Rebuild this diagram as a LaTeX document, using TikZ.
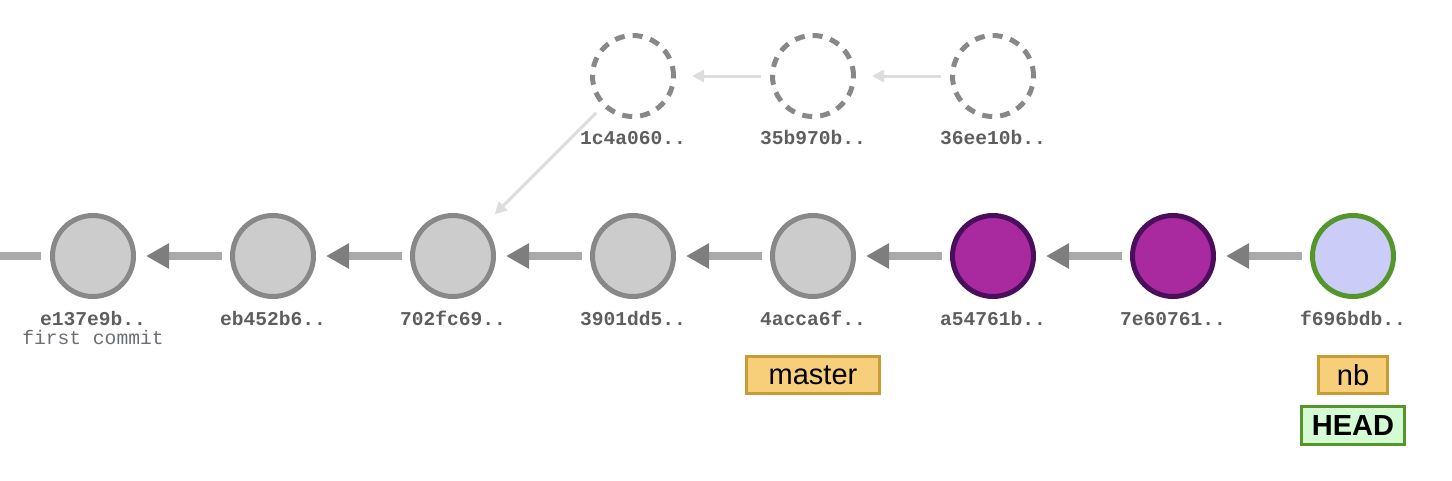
\documentclass[tikz,border=0pt]{standalone}
\usepackage{fontspec}
\setmainfont{Liberation Sans}
\setmonofont{Liberation Mono}
\usetikzlibrary{positioning, arrows.meta}

\definecolor{commitfill}{HTML}{CCCCCC}
\definecolor{commitline}{HTML}{888888}
\definecolor{purplefill}{HTML}{A92A9E}
\definecolor{purpleline}{HTML}{4A0E5C}
\definecolor{headfill}{HTML}{CCCCF8}
\definecolor{headline}{HTML}{55962A}
\definecolor{headtag}{HTML}{D5FBD5}
\definecolor{branchfill}{HTML}{F7CF7B}
\definecolor{branchline}{HTML}{C89B35}
\definecolor{hashgray}{HTML}{5E5E5E}
\definecolor{msggray}{HTML}{6A6E74}
\definecolor{edgegray}{HTML}{AAAAAA}
\definecolor{tipgray}{HTML}{7E7E7E}
\definecolor{lostgray}{HTML}{DDDDDD}

\tikzset{
  commit/.style={circle, draw=commitline, fill=commitfill, line width=3.75pt,
    minimum size=60.75pt, inner sep=0pt},
  branchcommit/.style={commit, draw=purpleline, fill=purplefill},
  headcommit/.style={commit, draw=headline, fill=headfill},
  ghost/.style={commit, fill=white, dash pattern=on 7.5pt off 6pt},
  hash/.style={font=\fontsize{14.7}{17}\selectfont\ttfamily\bfseries,
    text=hashgray, inner sep=0pt, text height=9pt, text depth=0pt},
  msg/.style={font=\fontsize{14.7}{17}\selectfont\ttfamily, text=msggray,
    inner sep=0pt, text height=8.5pt, text depth=0pt},
  branch/.style={draw=branchline, fill=branchfill, line width=2.25pt,
    font=\fontsize{21.75}{24}\selectfont, inner xsep=16.5pt, inner ysep=0pt,
    minimum height=28pt},
  head/.style={branch, draw=headline, fill=headtag,
    font=\fontsize{21.75}{24}\selectfont\bfseries, inner xsep=8pt},
  parent/.style={line width=6.4pt, draw=edgegray,
    -{Triangle[length=17.25pt, width=18pt, color=tipgray]},
    shorten >=7.5pt, shorten <=6pt},
  lost/.style={line width=2.25pt, draw=lostgray,
    -{Triangle[length=9pt, width=9pt]}, shorten >=12pt, shorten <=6.75pt},
}

\begin{document}
\begin{tikzpicture}[x=0.75pt, y=-0.75pt, node distance=70.5pt]
  \useasboundingbox (0,0) rectangle (1452,480);

  \coordinate (stub) at (0,256);
  \node[commit] (c1) at (93,256) {};
  \node[commit, right=of c1] (c2) {};
  \node[commit, right=of c2] (c3) {};
  \node[commit, right=of c3] (c4) {};
  \node[commit, right=of c4] (c5) {};
  \node[branchcommit, right=of c5] (c6) {};
  \node[branchcommit, right=of c6] (c7) {};
  \node[headcommit, right=of c7] (c8) {};

  \node[ghost, above=of c4] (t1) {};
  \node[ghost, right=of t1] (t2) {};
  \node[ghost, right=of t2] (t3) {};

  \node[hash, below=11pt of c1] (h1) {e137e9b..};
  \node[msg, below=5.25pt of h1] (m1) {first commit};
  \node[hash, below=11pt of c2] (h2) {eb452b6..};
  \node[hash, below=11pt of c3] (h3) {702fc69..};
  \node[hash, below=11pt of c4] (h4) {3901dd5..};
  \node[hash, below=11pt of c5] (h5) {4acca6f..};
  \node[hash, below=11pt of c6] (h6) {a54761b..};
  \node[hash, below=11pt of c7] (h7) {7e60761..};
  \node[hash, below=11pt of c8] (h8) {f696bdb..};

  \node[hash, below=9.75pt of t1] (g1) {1c4a060..};
  \node[hash, below=9.75pt of t2] (g2) {35b970b..};
  \node[hash, below=9.75pt of t3] (g3) {36ee10b..};

  \node[branch, below=21.5pt of h5] (b1) {master};
  \node[branch, inner xsep=13.5pt, below=21.5pt of h8] (b2) {nb};
  \node[head, below=7.5pt of b2] (hd) {HEAD};

  \draw[line width=6.4pt, edgegray, shorten <=6.75pt] (c1) -- (stub);
  \draw[parent] (c2) -- (c1);
  \draw[parent] (c3) -- (c2);
  \draw[parent] (c4) -- (c3);
  \draw[parent] (c5) -- (c4);
  \draw[parent] (c6) -- (c5);
  \draw[parent] (c7) -- (c6);
  \draw[parent] (c8) -- (c7);

  \draw[lost] (t3) -- (t2);
  \draw[lost] (t2) -- (t1);
  \draw[lost] (t1) -- (c3);
\end{tikzpicture}
\end{document}
